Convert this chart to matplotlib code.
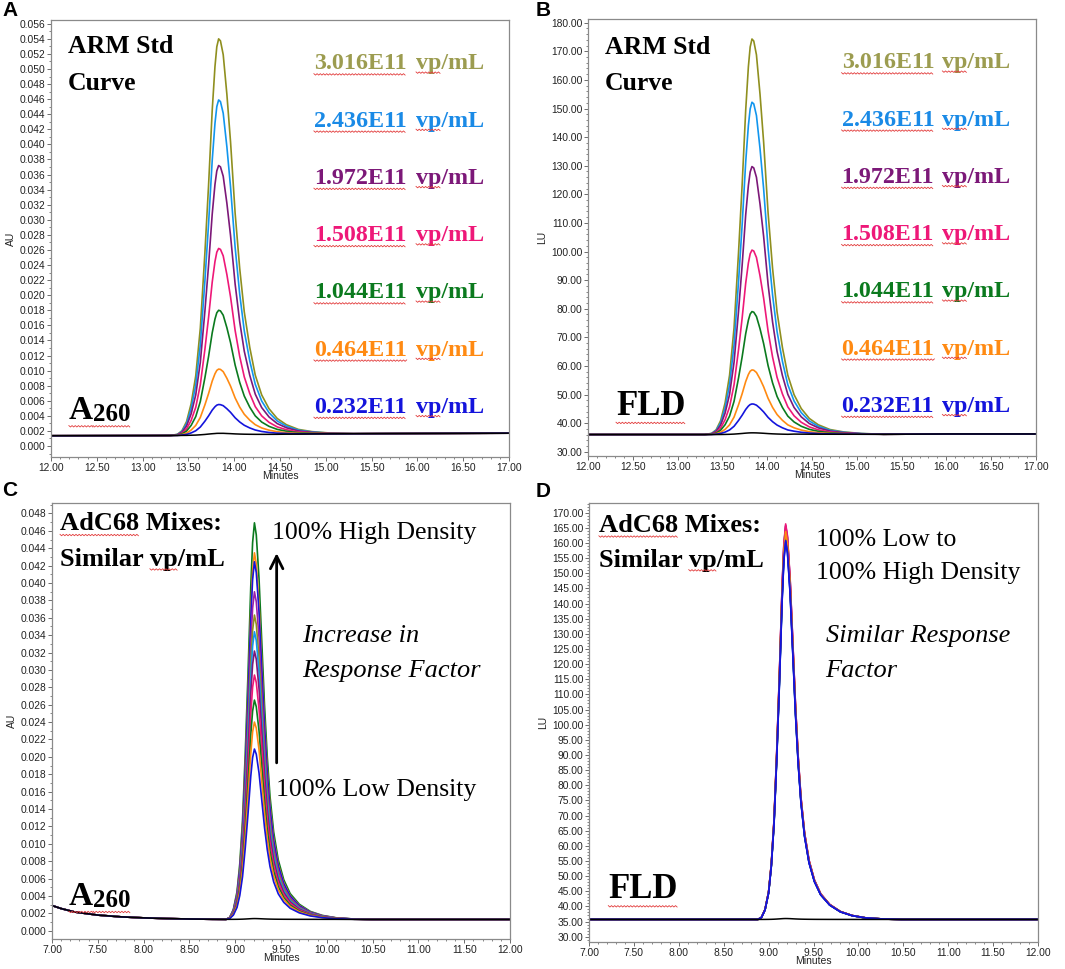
import numpy as np
import matplotlib
matplotlib.use("Agg")
import matplotlib.pyplot as plt
from matplotlib.ticker import MultipleLocator, AutoMinorLocator, FormatStrFormatter
from matplotlib.lines import Line2D
from matplotlib.transforms import IdentityTransform

# ---------------- data ----------------
# Panel A / B : ARM standard curve (time grid, normalised peak shape, baseline)
t_ab = [12.00, 12.50, 13.00, 13.30, 13.38, 13.43, 13.48, 13.53, 13.58, 13.63, 13.68,
        13.72, 13.76, 13.79, 13.81, 13.83, 13.85, 13.88, 13.92, 13.96, 14.01, 14.06,
        14.11, 14.17, 14.23, 14.30, 14.38, 14.47, 14.57, 14.70, 14.85, 15.05, 15.30,
        16.00, 17.00]
shape_ab = [0, 0, 0, 0, 0.003, 0.012, 0.035, 0.08, 0.15, 0.27, 0.46,
            0.63, 0.82, 0.93, 0.98, 1.00, 0.995, 0.96, 0.86, 0.74, 0.56, 0.42,
            0.31, 0.22, 0.15, 0.10, 0.065, 0.04, 0.024, 0.012, 0.006, 0.002, 0,
            0, 0]
base_a = [0.00136, 0.00137, 0.00138, 0.00139, 0.00139, 0.00140, 0.00140, 0.00141, 0.00141,
          0.00142, 0.00142, 0.00143, 0.00143, 0.00143, 0.00144, 0.00144, 0.00144, 0.00145,
          0.00145, 0.00146, 0.00147, 0.00148, 0.00149, 0.00150, 0.00151, 0.00152, 0.00153,
          0.00154, 0.00156, 0.00157, 0.00159, 0.00161, 0.00163, 0.00166, 0.00170]
base_b = [36.0, 36.0, 36.0, 36.0, 36.0, 36.0, 36.0, 36.0, 36.0, 36.0, 36.0,
          36.0, 36.0, 36.0, 36.0, 36.0, 36.0, 36.0, 36.0, 36.0, 36.0, 36.0,
          36.0, 36.0, 36.0, 36.1, 36.1, 36.1, 36.1, 36.1, 36.1, 36.1, 36.1,
          36.2, 36.2]
conc_labels = ["3.016E11", "2.436E11", "1.972E11", "1.508E11", "1.044E11", "0.464E11", "0.232E11"]
std_colors = ["#8f8f1f", "#1296ee", "#7c1878", "#ee1878", "#0b7a1e", "#ff8a12", "#1414dc"]
std_text_colors = ["#9c9c50", "#1a8ae6", "#7c1878", "#ee1878", "#0b7a1e", "#ff8a12", "#1414dc"]
peak_a = [0.0540, 0.0459, 0.0372, 0.0262, 0.0180, 0.0102, 0.0055]
peak_b = [174.3, 152.2, 129.7, 100.5, 79.0, 58.6, 46.7]
blank_peak_a = 0.00168
blank_peak_b = 36.6

# Panel C / D : AdC68 mixes
t_c = [7.00, 7.10, 7.25, 7.50, 7.75, 8.00, 8.25, 8.50, 8.75, 8.90, 8.94, 8.98, 9.02,
       9.05, 9.08, 9.11, 9.14, 9.17, 9.19, 9.21, 9.23, 9.26, 9.29, 9.32, 9.35, 9.38,
       9.42, 9.47, 9.53, 9.60, 9.70, 9.82, 9.95, 10.10, 10.30, 10.50, 11.00, 12.00]
t_d = [7.00, 7.10, 7.25, 7.50, 7.75, 8.00, 8.25, 8.50, 8.75, 8.88, 8.92, 8.96, 9.00,
       9.03, 9.06, 9.09, 9.12, 9.15, 9.17, 9.19, 9.21, 9.24, 9.27, 9.30, 9.33, 9.36,
       9.40, 9.45, 9.51, 9.58, 9.68, 9.80, 9.93, 10.08, 10.28, 10.48, 11.00, 12.00]
shape_cd = [0, 0, 0, 0, 0, 0, 0, 0, 0, 0, 0.005, 0.025, 0.07,
            0.14, 0.25, 0.42, 0.62, 0.84, 0.95, 1.00, 0.97, 0.86, 0.70, 0.54, 0.41, 0.31,
            0.22, 0.15, 0.10, 0.065, 0.038, 0.02, 0.01, 0.004, 0.001, 0, 0, 0]
base_c = [0.00290, 0.00255, 0.00215, 0.00180, 0.00160, 0.00148, 0.00140, 0.00135, 0.00132,
          0.00131, 0.00131, 0.00131, 0.00131, 0.00131, 0.00131, 0.00131, 0.00131, 0.00131,
          0.00131, 0.00131, 0.00131, 0.00131, 0.00131, 0.00131, 0.00131, 0.00131, 0.00131,
          0.00131, 0.00131, 0.00131, 0.00131, 0.00131, 0.00131, 0.00131, 0.00130, 0.00130,
          0.00130, 0.00130]
base_d = [35.7] * 38
mix_colors = ["#1414dc", "#ff8a12", "#0b7a1e", "#ee1878", "#7c1878", "#1296ee",
              "#8f8f1f", "#9a20a8", "#1414dc", "#ff8a12", "#0b7a1e"]
peak_c = [0.0209, 0.0240, 0.02653, 0.02941, 0.03217, 0.03439, 0.03631, 0.03899,
          0.04244, 0.04347, 0.04692]
peak_d = [160.4, 163.8, 162.8, 166.3, 165.5, 161.5, 163.2, 165.8, 160.8, 164.2, 162.3]
blank_peak_c = 0.00140
blank_peak_d = 36.0

# ---------------- figure ----------------
W, H = 1065, 969
fig = plt.figure(figsize=(W / 100, H / 100), dpi=100)

def px_axes(left, top, right, bottom):
    return fig.add_axes([left / W, 1 - bottom / H, (right - left) / W, (bottom - top) / H])

axA = px_axes(51, 20, 509, 457)
axB = px_axes(588, 19, 1036, 456)
axC = px_axes(52, 503, 510, 939)
axD = px_axes(589, 503, 1038, 942)

SANS = "Liberation Sans"
SERIF = "Liberation Serif"
TICKC = "#222222"


def style_axis(ax, xlim, ylim, ymaj, ymin_div, yfmt, ylabel):
    ax.set_xlim(*xlim)
    ax.set_ylim(*ylim)
    ax.xaxis.set_major_locator(MultipleLocator(0.5))
    ax.xaxis.set_minor_locator(AutoMinorLocator(5))
    ax.xaxis.set_major_formatter(FormatStrFormatter("%.2f"))
    ax.yaxis.set_major_locator(MultipleLocator(ymaj))
    ax.yaxis.set_minor_locator(AutoMinorLocator(ymin_div))
    ax.yaxis.set_major_formatter(FormatStrFormatter(yfmt))
    ax.tick_params(which="major", direction="out", length=3, width=0.6, color="#555555",
                   labelsize=7.4, labelcolor=TICKC, pad=1)
    ax.tick_params(which="minor", direction="out", length=1.6, width=0.5, color="#555555")
    ax.tick_params(axis="x", which="both", top=False)
    ax.tick_params(axis="y", which="both", right=False)
    for lab in ax.get_xticklabels() + ax.get_yticklabels():
        lab.set_fontfamily(SANS)
    for s in ax.spines.values():
        s.set_color("#8a8a8a")
        s.set_linewidth(0.9)
    ax.set_xlabel("Minutes", fontsize=7.5, family=SANS, color=TICKC, labelpad=-1)
    ax.set_ylabel(ylabel, fontsize=7.5, family=SANS, color=TICKC, labelpad=3)


def draw_set(ax, t, shape, base, peaks, colors, blank_peak, apex_idx, order):
    t = np.asarray(t)
    shape = np.asarray(shape)
    base = np.asarray(base)
    for i in order:
        amp = peaks[i] - base[apex_idx]
        ax.plot(t, base + amp * shape, color=colors[i], lw=1.2, solid_joinstyle="round")
    amp = blank_peak - base[apex_idx]
    ax.plot(t, base + amp * shape, color="black", lw=1.1)


apex_ab = t_ab.index(13.83)
apex_c = t_c.index(9.21)
apex_d = t_d.index(9.19)

draw_set(axA, t_ab, shape_ab, base_a, peak_a, std_colors, blank_peak_a, apex_ab,
         range(len(peak_a)))
draw_set(axB, t_ab, shape_ab, base_b, peak_b, std_colors, blank_peak_b, apex_ab,
         range(len(peak_b)))
draw_set(axC, t_c, shape_cd, base_c, peak_c, mix_colors, blank_peak_c, apex_c,
         range(len(peak_c) - 1, -1, -1))
draw_set(axD, t_d, shape_cd, base_d, peak_d, mix_colors, blank_peak_d, apex_d,
         [10, 9, 7, 6, 5, 4, 3, 2, 1, 8, 0])

style_axis(axA, (12, 17), (-0.00146, 0.0565), 0.002, 2, "%.3f", "AU")
style_axis(axB, (12, 17), (28.5, 181.3), 10, 5, "%.2f", "LU")
style_axis(axC, (7, 12), (-0.00095, 0.0492), 0.002, 2, "%.3f", "AU")
style_axis(axD, (7, 12), (28.25, 173.2), 5, 5, "%.2f", "LU")

# panel letters
for lab, x, y in [("A", 2, 1), ("B", 536, 1), ("C", 2, 481), ("D", 536, 482)]:
    fig.text(x / W, 1 - y / H, lab, fontsize=15, fontweight="bold", family=SANS,
             ha="left", va="top")

underlines = []  # (text artist, prefix, word)


def txt(ax, x, y, s, size, weight="bold", style="normal", color="black"):
    return ax.text(x, y, s, transform=ax.transAxes, fontsize=size, fontweight=weight,
                   fontstyle=style, family=SERIF, color=color, ha="left", va="baseline")

# Panel A and B labels
for ax, xl, y1, y2, xn, xv, ytop in [(axA, 0.037, 0.9245, 0.840, 0.574, 0.797, 0.887),
                                      (axB, 0.038, 0.921, 0.838, 0.566, 0.791, 0.887)]:
    txt(ax, xl, y1, "ARM Std", 18.5)
    txt(ax, xl, y2, "Curve", 18.5)
    step = (ytop - 0.101) / 6
    for i, (lab, col) in enumerate(zip(conc_labels, std_text_colors)):
        yy = ytop - i * step
        t1 = txt(ax, xn, yy, lab, 17.3, color=col)
        t2 = txt(ax, xv, yy, "vp/mL", 17.3, color=col)
        underlines.append((t1, "", lab))
        underlines.append((t2, "", "vp"))

# A260 labels
for ax, x, y in [(axA, 0.039, 0.0863), (axC, 0.037, 0.078)]:
    ta = txt(ax, x, y, "A", 24)
    tb = ax.annotate("260", xy=(1, 0), xycoords=ta, xytext=(0, 0), textcoords="offset points",
                     fontsize=18, fontweight="bold", family=SERIF, ha="left", va="bottom")
    underlines.append((ta, "", "A"))
    underlines.append((tb, "", "260"))

# FLD labels
for ax, x, y in [(axB, 0.0625, 0.094), (axD, 0.043, 0.0995)]:
    tf = txt(ax, x, y, "FLD", 25)
    underlines.append((tf, "", "FLD"))

# Panel C and D titles
for ax, x, y1, y2 in [(axC, 0.0175, 0.938, 0.855), (axD, 0.022, 0.935, 0.854)]:
    t1 = txt(ax, x, y1, "AdC68 Mixes:", 19)
    t2 = txt(ax, x, y2, "Similar vp/mL", 19)
    underlines.append((t1, "", "AdC68"))
    underlines.append((t2, "Similar ", "vp"))

# Panel C annotations
txt(axC, 0.48, 0.917, "100% High Density", 18.5, weight="normal")
txt(axC, 0.5466, 0.682, "Increase in", 19, weight="normal", style="italic")
txt(axC, 0.5466, 0.602, "Response Factor", 19, weight="normal", style="italic")
txt(axC, 0.489, 0.328, "100% Low Density", 18.5, weight="normal")
axC.annotate("", xy=(0.4905, 0.885), xytext=(0.4905, 0.404), xycoords="axes fraction",
             textcoords="axes fraction",
             arrowprops=dict(arrowstyle="->,head_width=0.45,head_length=0.9", lw=2.0,
                             color="black", shrinkA=0, shrinkB=0))

# Panel D annotations
txt(axD, 0.5056, 0.903, "100% Low to", 18.5, weight="normal")
txt(axD, 0.5056, 0.828, "100% High Density", 18.5, weight="normal")
txt(axD, 0.527, 0.684, "Similar Response", 19, weight="normal", style="italic")
txt(axD, 0.527, 0.603, "Factor", 19, weight="normal", style="italic")

# red spell-check squiggles under some words
fig.canvas.draw()
renderer = fig.canvas.get_renderer()
for t, prefix, word in underlines:
    bb = t.get_window_extent(renderer)
    prop = t.get_fontproperties()
    w_pre = renderer.get_text_width_height_descent(prefix, prop, ismath=False)[0] if prefix else 0
    w_all = renderer.get_text_width_height_descent(prefix + word, prop, ismath=False)[0]
    x0 = bb.x0 + w_pre
    x1 = bb.x0 + w_all
    _, _, desc = renderer.get_text_width_height_descent(prefix + word, prop, ismath=False)
    ybase = bb.y0 + desc * 0.35
    xs = np.arange(x0, x1, 1.6)
    ys = ybase + np.where(np.arange(len(xs)) % 2 == 0, 0.7, -0.7)
    fig.add_artist(Line2D(xs, ys, transform=IdentityTransform(), color="#e23a3a", lw=0.6))

fig.savefig("out.png", dpi=100)
